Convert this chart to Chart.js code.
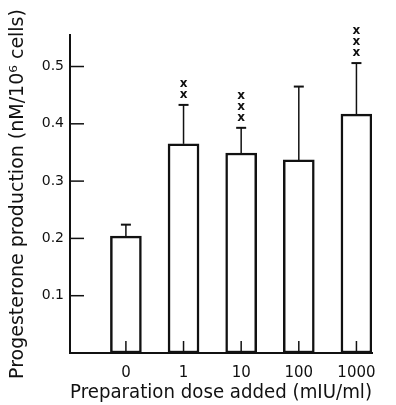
<!DOCTYPE html>
<html>
<head>
<meta charset="utf-8">
<script src="https://cdn.jsdelivr.net/npm/chart.js@4.4.1/dist/chart.umd.min.js"></script>
<style>
  html, body { margin: 0; padding: 0; background: #fff; }
  #wrap { width: 396px; height: 405px; position: relative; }
</style>
</head>
<body>
<div id="wrap"><canvas id="doseChart"></canvas></div>
<script>
// categories (dose, mIU/ml) and values
const doses = ["0", "1", "10", "100", "1000"];
const meanValues = [0.204, 0.365, 0.349, 0.337, 0.417];
const seValues = [0.020, 0.068, 0.044, 0.128, 0.089];
const markCounts = [0, 2, 3, 0, 3];
const yTickValues = [0.1, 0.2, 0.3, 0.4, 0.5];

const ink = "#111";

const extrasPlugin = {
    id: "extras",
    afterDatasetsDraw(chart) {
        const ctx = chart.ctx;
        const xs = chart.scales.x;
        const ys = chart.scales.y;
        const meta = chart.getDatasetMeta(0);
        const left = chart.chartArea.left;
        const base = ys.getPixelForValue(0);

        ctx.save();
        ctx.strokeStyle = ink;
        ctx.fillStyle = ink;
        ctx.lineCap = "butt";

        // inward ticks on the y axis
        ctx.lineWidth = 1.5;
        yTickValues.forEach(function (v) {
            const py = ys.getPixelForValue(v);
            ctx.beginPath();
            ctx.moveTo(left, py);
            ctx.lineTo(left + 14, py);
            ctx.stroke();
        });

        // inward ticks on the x axis
        doses.forEach(function (d, i) {
            const px = xs.getPixelForValue(i);
            ctx.beginPath();
            ctx.moveTo(px, base);
            ctx.lineTo(px, base - 12);
            ctx.stroke();
        });

        // upper error bars and significance marks
        meta.data.forEach(function (bar, i) {
            const px = bar.x;
            const top = ys.getPixelForValue(meanValues[i] + seValues[i]);
            ctx.lineWidth = 1.5;
            ctx.beginPath();
            ctx.moveTo(px, bar.y);
            ctx.lineTo(px, top);
            ctx.stroke();
            ctx.lineWidth = 2;
            ctx.beginPath();
            ctx.moveTo(px - 5, top);
            ctx.lineTo(px + 5, top);
            ctx.stroke();

            ctx.font = "bold 12px 'DejaVu Sans'";
            ctx.textAlign = "center";
            ctx.textBaseline = "middle";
            for (let k = 0; k < markCounts[i]; k++) {
                ctx.fillText("x", px, top - 10 - k * 11);
            }
        });
        ctx.restore();
    }
};

const ctx = document.getElementById("doseChart");
new Chart(ctx, {
    type: "bar",
    data: {
        datasets: [{
            data: meanValues.map(function (v, i) { return { x: i, y: v }; }),
            backgroundColor: "#fff",
            borderColor: ink,
            borderWidth: 2.5,
            borderSkipped: false,
            barThickness: 31
        }]
    },
    options: {
        responsive: true,
        maintainAspectRatio: false,
        animation: false,
        layout: { padding: { top: 35, right: 24, left: 0, bottom: 0 } },
        plugins: { legend: { display: false }, tooltip: { enabled: false } },
        scales: {
            x: {
                type: "linear",
                offset: false,
                min: -0.97,
                max: 4.27,
                afterFit: function (s) { s.height = 52; },
                afterBuildTicks: function (s) {
                    s.ticks = doses.map(function (d, i) { return { value: i }; });
                },
                grid: { display: false, drawTicks: false },
                border: { display: true, color: ink, width: 2 },
                ticks: {
                    padding: 11,
                    color: ink,
                    font: { family: "DejaVu Sans", size: 15 },
                    callback: function (v) { return doses[v]; }
                },
                title: {
                    display: true,
                    text: "Preparation dose added (mIU/ml)",
                    color: ink,
                    font: { family: "DejaVu Sans", size: 19 },
                    padding: { top: 0, bottom: 1 }
                }
            },
            y: {
                min: 0,
                max: 0.555,
                afterFit: function (s) { s.width = 70; },
                afterBuildTicks: function (s) {
                    s.ticks = yTickValues.map(function (v) { return { value: v }; });
                },
                grid: { display: false, drawTicks: false },
                border: { display: true, color: ink, width: 2 },
                ticks: {
                    padding: 6,
                    color: ink,
                    font: { family: "DejaVu Sans", size: 14 },
                    callback: function (v) { return v.toFixed(1); }
                },
                title: {
                    display: true,
                    text: "Progesterone production (nM/10\u2076 cells)",
                    color: ink,
                    font: { family: "DejaVu Sans", size: 19 },
                    padding: { top: 7, bottom: 0 }
                }
            }
        }
    },
    plugins: [extrasPlugin]
});
</script>
</body>
</html>
